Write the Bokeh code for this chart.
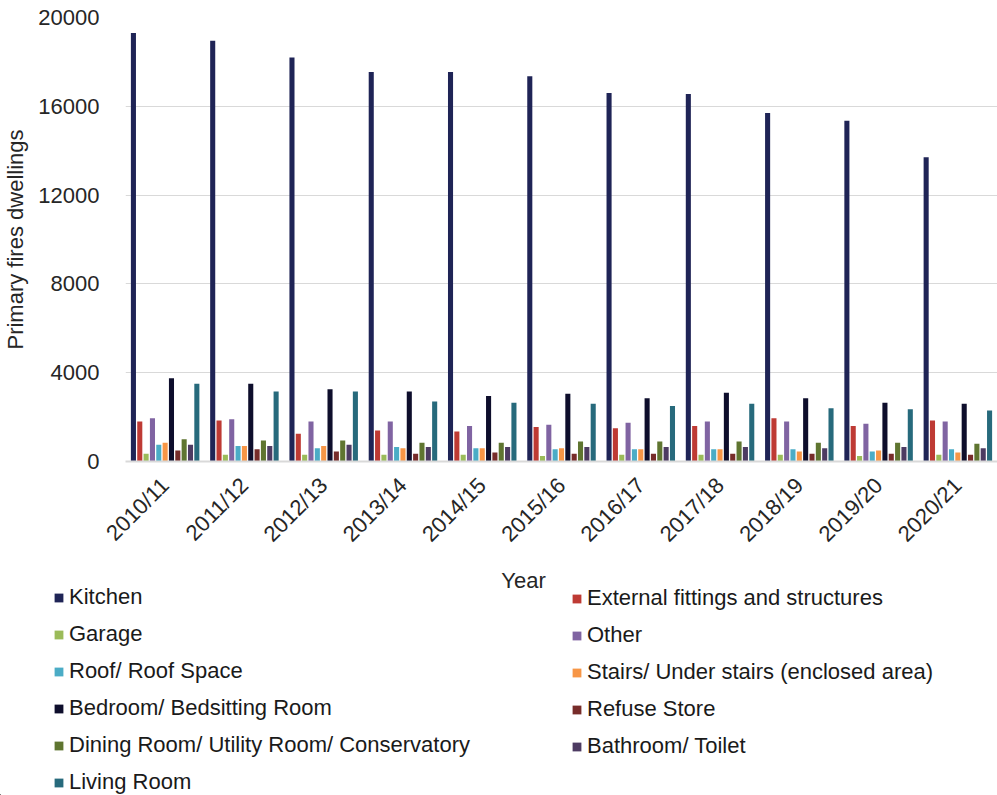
import math
from bokeh.plotting import figure
from bokeh.models import FactorRange, Range1d, Legend, LegendItem, Label, FixedTicker
from bokeh.transform import dodge
from bokeh.embed import file_html
from bokeh.resources import INLINE

years = ["2010/11", "2011/12", "2012/13", "2013/14", "2014/15", "2015/16",
         "2016/17", "2017/18", "2018/19", "2019/20", "2020/21"]

kitchen = [19300, 18950, 18200, 17550, 17550, 17350, 16600, 16550, 15700, 15350, 13700]
external = [1800, 1850, 1250, 1400, 1350, 1550, 1500, 1600, 1950, 1600, 1850]
garage = [350, 300, 300, 300, 300, 250, 300, 300, 300, 250, 300]
other = [1950, 1900, 1800, 1800, 1600, 1650, 1750, 1800, 1800, 1700, 1800]
roof = [750, 700, 600, 650, 600, 550, 550, 550, 550, 450, 550]
stairs = [850, 700, 700, 600, 600, 600, 550, 550, 450, 500, 400]
bedroom = [3750, 3500, 3250, 3150, 2950, 3050, 2850, 3100, 2850, 2650, 2600]
refuse = [500, 550, 450, 350, 400, 350, 350, 350, 350, 350, 300]
dining = [1000, 950, 950, 850, 850, 900, 900, 900, 850, 850, 800]
bathroom = [750, 700, 750, 650, 650, 650, 650, 650, 600, 650, 600]
living = [3500, 3150, 3150, 2700, 2650, 2600, 2500, 2600, 2400, 2350, 2300]

series_names = ["Kitchen", "External fittings and structures", "Garage", "Other",
                "Roof/ Roof Space", "Stairs/ Under stairs (enclosed area)",
                "Bedroom/ Bedsitting Room", "Refuse Store",
                "Dining Room/ Utility Room/ Conservatory", "Bathroom/ Toilet",
                "Living Room"]
series_values = [kitchen, external, garage, other, roof, stairs, bedroom, refuse,
                 dining, bathroom, living]
colors = ["#1f2456", "#be3a34", "#9bbb59", "#8064a2", "#4bacc6", "#f79646",
          "#0e0e2c", "#772c2a", "#5f7530", "#4d3b62", "#276a7c"]

y_ticks = [0, 4000, 8000, 12000, 16000, 20000]

FONT = "Liberation Sans"
FS = "22px"
W = 997
H_MAIN = 561
H_LEG = 234

p = figure(x_range=FactorRange(factors=years), y_range=Range1d(0, 20000),
           width=W, height=H_MAIN, output_backend="svg", toolbar_location=None,
           min_border_left=120, min_border_right=0, min_border_top=17,
           min_border_bottom=100)
p.outline_line_color = None
p.xgrid.grid_line_color = None
p.ygrid.grid_line_color = "#d9d9d9"
p.ygrid.grid_line_width = 1

p.yaxis.ticker = FixedTicker(ticks=y_ticks)
p.yaxis.axis_line_color = None
p.yaxis.major_tick_line_color = None
p.yaxis.minor_tick_line_color = None
p.yaxis.major_label_text_font = FONT
p.yaxis.major_label_text_font_size = FS
p.yaxis.major_label_text_color = "#262626"
p.yaxis.major_label_standoff = 20
p.yaxis.axis_label = "Primary fires dwellings"
p.yaxis.axis_label_text_font = FONT
p.yaxis.axis_label_text_font_size = FS
p.yaxis.axis_label_text_font_style = "normal"
p.yaxis.axis_label_text_color = "#262626"
p.yaxis.axis_label_standoff = 7

p.xaxis.axis_line_color = "#d9d9d9"
p.xaxis.axis_line_width = 2
p.xaxis.major_tick_line_color = None
p.xaxis.minor_tick_line_color = None
p.xaxis.major_label_orientation = math.pi / 4
p.xaxis.major_label_text_font = FONT
p.xaxis.major_label_text_font_size = FS
p.xaxis.major_label_text_color = "#262626"
p.xaxis.major_label_standoff = 14

data = {"year": years}
for i, vals in enumerate(series_values):
    data[f"s{i}"] = vals

step = 0.08
for i, name in enumerate(series_names):
    p.vbar(x=dodge("year", (i - 5) * step, range=p.x_range), top=f"s{i}",
           width=0.064, source=data, fill_color=colors[i], line_color=None)

# Legend / x-axis title panel below the chart (separate root, no frame alignment)
q = figure(x_range=Range1d(0, W), y_range=Range1d(0, H_LEG), width=W, height=H_LEG,
           output_backend="svg", toolbar_location=None,
           min_border_left=0, min_border_right=0, min_border_top=0, min_border_bottom=0,
           x_axis_type=None, y_axis_type=None)
q.outline_line_color = None
q.xgrid.grid_line_color = None
q.ygrid.grid_line_color = None

leg_renderers = []
for i, name in enumerate(series_names):
    # placeholder glyph kept outside the visible range; it only provides the legend swatch
    r = q.vbar(x=[-1000], top=[1], width=1, fill_color=colors[i], line_color=None)
    leg_renderers.append(r)

left_idx = [0, 2, 4, 6, 8, 10]
right_idx = [1, 3, 5, 7, 9]


def make_legend(idx, loc):
    return Legend(items=[LegendItem(label=series_names[i], renderers=[leg_renderers[i]]) for i in idx],
                  location=loc, orientation="vertical",
                  glyph_width=11, glyph_height=11, label_standoff=5,
                  label_height=26, spacing=11, padding=0, margin=0,
                  label_text_font=FONT, label_text_font_size=FS,
                  label_text_color="#1a1a1a", background_fill_alpha=0,
                  border_line_color=None)


q.add_layout(make_legend(left_idx, (53, 0)))
q.add_layout(make_legend(right_idx, (571, 36)))

q.add_layout(Label(x=523, y=H_LEG - 19, text="Year", text_align="center",
                   text_baseline="middle", text_font=FONT, text_font_size=FS,
                   text_color="#262626"))

open("out.html", "w").write(file_html([p, q], INLINE))
